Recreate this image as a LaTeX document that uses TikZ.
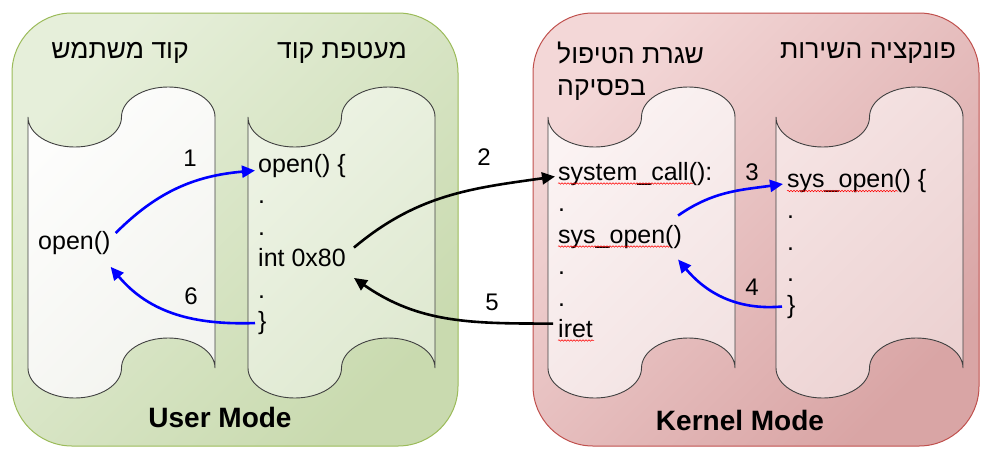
\documentclass[tikz,border=0pt]{standalone}
\usepackage{fontspec}
\setmainfont{Liberation Sans}
\newfontfamily\heb[Script=Hebrew]{Liberation Sans}
\TeXXeTstate=1
\usetikzlibrary{arrows.meta,decorations.pathmorphing}
\definecolor{gA}{HTML}{E6EFDA}
\definecolor{gB}{HTML}{C9DAAF}
\definecolor{gborder}{HTML}{9BBB59}
\definecolor{rA}{HTML}{F3D7D7}
\definecolor{rB}{HTML}{D9A5A5}
\definecolor{rborder}{HTML}{C0504D}
\definecolor{tapeline}{HTML}{404040}
\definecolor{tA1}{HTML}{FDFDFC}
\definecolor{tA2}{HTML}{F3F4EF}
\definecolor{tB1}{HTML}{EDF3E4}
\definecolor{tB2}{HTML}{DFE9D1}
\definecolor{tC1}{HTML}{FBF3F3}
\definecolor{tC2}{HTML}{F3E3E3}
\definecolor{tD1}{HTML}{F5E3E3}
\definecolor{tD2}{HTML}{ECD2D2}
\newcommand\tape[2]{\path[tape,#2] (#1,-117)
  arc[start angle=180,end angle=360,x radius=46.75pt,y radius=30pt]
  arc[start angle=180,end angle=0,x radius=46.75pt,y radius=30pt]
  -- ++(0,-251)
  arc[start angle=0,end angle=180,x radius=46.75pt,y radius=30pt]
  arc[start angle=0,end angle=-180,x radius=46.75pt,y radius=30pt]
  -- cycle;}
\begin{document}
\begin{tikzpicture}[x=1pt,y=1pt,
  code/.style={font=\fontsize{25}{30}\selectfont, inner sep=0pt, anchor=base west},
  hdr/.style={font=\heb\fontsize{26.5}{31}\selectfont, inner sep=0pt},
  num/.style={font=\fontsize{24}{28}\selectfont, inner sep=0pt},
  mode/.style={font=\bfseries\fontsize{28}{32}\selectfont, inner sep=0pt},
  tape/.style={draw=tapeline, line width=0.9pt},
  panel/.style={line width=1pt, rounded corners=60pt},
  flow/.style={line width=2.6pt, -{Triangle[length=13pt,width=12pt]}},
  spell/.style={draw=red, line width=0.5pt, decorate,
    decoration={snake,segment length=3pt,amplitude=0.8pt}}]
\useasboundingbox (0,0) rectangle (990,-450);
% panels
\path[panel, draw=gborder, top color=gA, bottom color=gB, shading angle=45]
  (12,-13) rectangle (458,-446);
\path[panel, draw=rborder, top color=rA, bottom color=rB, shading angle=45]
  (533,-13) rectangle (979,-446);
% tapes
\tape{28}{top color=tA1, bottom color=tA2, shading angle=45}
\tape{248}{top color=tB1, bottom color=tB2, shading angle=45}
\tape{548}{top color=tC1, bottom color=tC2, shading angle=45}
\tape{776}{top color=tD1, bottom color=tD2, shading angle=45}
% headers
\node[hdr] (h1) at (120,-53) {\beginR קוד משתמש\endR};
\node[hdr] (h2) at (342,-53) {\beginR מעטפת קוד\endR};
\node[hdr, anchor=west] (h3a) at (557,-53) {\beginR שגרת הטיפול\endR};
\node[hdr, anchor=west] (h3b) at (557,-90) {\beginR בפסיקה\endR};
\node[hdr] (h4) at (868,-53) {\beginR פונקציה השירות\endR};
% user code
\node[code] (uopen) at (38,-249.5) {open()};
% wrapper
\node[code] (wopen) at (258,-172) {open() \{};
\node[code] (wd1) at (258,-203.5) {.};
\node[code] (wd2) at (258,-235) {.};
\node[code] (wint) at (258,-266.5) {int 0x80};
\node[code] (wd3) at (258,-298) {.};
\node[code] (wbr) at (258,-329.5) {\}};
% handler
\node[code] (ksys) at (558,-180) {system\_call():};
\node[code] (kd1) at (558,-211.5) {.};
\node[code] (kopen) at (558,-243) {sys\_open()};
\node[code] (kd2) at (558,-274.5) {.};
\node[code] (kd3) at (558,-306) {.};
\node[code] (kiret) at (558,-337.5) {iret};
% service
\node[code] (sopen) at (787,-187) {sys\_open() \{};
\node[code] (sd1) at (787,-218.5) {.};
\node[code] (sd2) at (787,-250) {.};
\node[code] (sd3) at (787,-281.5) {.};
\node[code] (sbr) at (787,-313) {\}};
% spelling marks
\draw[spell] ([yshift=-3.5pt]ksys.base west) -- ++(135,0);
\draw[spell] ([yshift=-3.5pt]kopen.base west) -- ++(112,0);
\draw[spell] ([yshift=-3pt]kiret.base west) -- ++(36,0);
\draw[spell] ([yshift=-4pt]sopen.base west) -- ++(111,0);
% arrows
\draw[flow, blue] ([shift={(5,10)}]uopen.east) to[out=45,in=185] ([shift={(-3,-5)}]wopen.west);
\draw[flow, blue] ([shift={(-3,0)}]wbr.west) to[out=182,in=-50] ([shift={(0,-12)}]uopen.south east);
\draw[flow] ([shift={(8,10)}]wint.east) to[out=40,in=188] ([shift={(-3,-3)}]ksys.west);
\draw[flow] ([shift={(-5,5)}]kiret.west) to[out=180,in=-35] ([shift={(8,-11)}]wint.south east);
\draw[flow, blue] ([shift={(-4,21)}]kopen.east) to[out=35,in=188] ([shift={(-4,-3.5)}]sopen.west);
\draw[flow, blue] ([shift={(-5,0)}]sbr.west) to[out=185,in=-50] ([shift={(-4,-23)}]kopen.east);
% step numbers
\node[num] (n1) at (190,-158) {1};
\node[num] (n2) at (484,-157) {2};
\node[num] (n3) at (752,-172) {3};
\node[num] (n4) at (752,-287) {4};
\node[num] (n5) at (492,-302) {5};
\node[num] (n6) at (191,-296) {6};
% modes
\node[mode] (um) at (220,-417) {User Mode};
\node[mode] (km) at (740,-420) {Kernel Mode};
\end{tikzpicture}
\end{document}
